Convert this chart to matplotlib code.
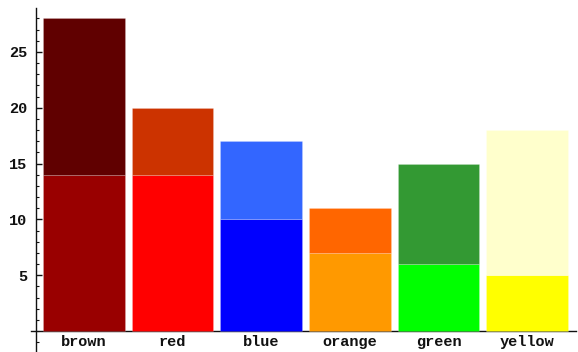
import matplotlib
matplotlib.use("Agg")
import matplotlib.pyplot as plt
from matplotlib.ticker import MultipleLocator

categories = ["brown", "red", "blue", "orange", "green", "yellow"]
bottom_values = [14, 14, 10, 7, 6, 5]
top_values = [14, 6, 7, 4, 9, 13]
bottom_colors = ["#990000", "#ff0000", "#0000ff", "#ff9900", "#00ff00", "#ffff00"]
top_colors = ["#600000", "#cc3300", "#3366ff", "#ff6600", "#339933", "#ffffcc"]

W, H, DPI = 578, 352, 100
fig = plt.figure(figsize=(W / DPI, H / DPI), dpi=DPI)
ax = fig.add_axes([36 / W, 0, (576 - 36) / W, 344 / H])

x = list(range(1, len(categories) + 1))
edge = (1, 1, 1, 0.2)
ax.bar(x, bottom_values, width=0.92, color=bottom_colors, edgecolor=edge, linewidth=0.6, zorder=3)
ax.bar(x, top_values, bottom=bottom_values, width=0.92, color=top_colors, edgecolor=edge, linewidth=0.6, zorder=3)

xmin, xmax = 0.459, 6.55
ax.set_xlim(xmin, xmax)
ax.set_ylim(-1.88, 28.94)

for s in ["top", "right"]:
    ax.spines[s].set_visible(False)
ax.spines["bottom"].set_position(("data", 0))
ax.spines["bottom"].set_bounds(xmin - 0.06, xmax)
ax.spines["left"].set_position(("data", xmin))
for s in ["bottom", "left"]:
    ax.spines[s].set_linewidth(1.0)
    ax.spines[s].set_color("#111111")
    ax.spines[s].set_clip_on(False)

font = dict(family=["Liberation Mono", "DejaVu Sans Mono"], weight="bold", size=11)

ax.set_xticks(x)
ax.set_xticklabels(categories, **font)
ax.tick_params(axis="x", length=0, pad=3, colors="#111111")

ax.yaxis.set_major_locator(MultipleLocator(5))
ax.yaxis.set_minor_locator(MultipleLocator(1))
ax.set_yticks([5, 10, 15, 20, 25])
ax.set_yticklabels(["5", "10", "15", "20", "25"], **font)
ax.tick_params(axis="y", which="major", direction="in", length=4, width=1, pad=6, colors="#111111")
ax.tick_params(axis="y", which="minor", direction="in", length=2.2, width=0.8, colors="#111111")

fig.savefig("out.png", dpi=DPI)
